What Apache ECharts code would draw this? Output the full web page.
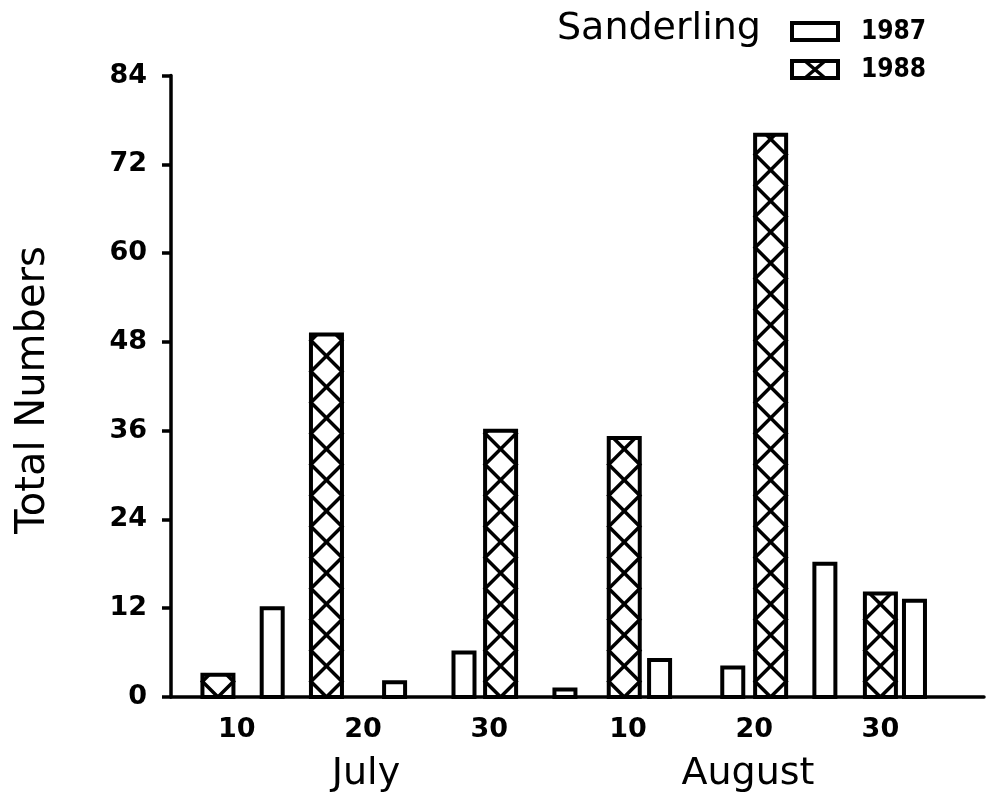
<!DOCTYPE html>
<html>
<head>
<meta charset="utf-8">
<script src="https://cdn.jsdelivr.net/npm/echarts@6/dist/echarts.min.js"></script>
<style>
  html, body { margin: 0; padding: 0; background: #fff; }
  #chart { width: 986px; height: 805px; }
</style>
</head>
<body>
<div id="chart"></div>
<script>
// Survey dates as day of season (1 = 1 July, 32 = 1 August)
const days1987 = [12.8, 22.5, 28.0, 36.0, 43.5, 49.3, 56.6, 63.7];
const counts1987 = [12, 2, 6, 1, 5, 4, 18, 13];
const days1988 = [8.5, 17.1, 30.9, 40.7, 52.3, 61.0];
const counts1988 = [3, 49, 36, 35, 76, 14];

// Date axis labels: 10, 20, 30 July and 10, 20, 30 August
const dayTicks = [10, 20, 30, 41, 51, 61];
const dayTickLabels = ['10', '20', '30', '10', '20', '30'];
const months = ['July', 'August'];
const speciesName = 'Sanderling';
const seriesNames = ['1987', '1988'];
const yAxisTitle = 'Total Numbers';

const BLACK = '#000';
const TEXT_FONT = "'DejaVu Sans', sans-serif";
const NUM_FONT = "'DejaVu Sans', sans-serif";
const LEGEND_FONT = "'DejaVu Sans Condensed', 'DejaVu Sans', sans-serif";

const chart = echarts.init(document.getElementById('chart'), null, { renderer: 'canvas' });

// Plain outlined bar
function openBar(params, api) {
  const top = api.coord([api.value(0), api.value(1)]);
  const base = api.coord([api.value(0), 0]);
  const w = 21;
  return {
    type: 'rect',
    shape: { x: top[0] - w / 2, y: top[1], width: w, height: base[1] - top[1] },
    style: { fill: '#fff', stroke: BLACK, lineWidth: 4 }
  };
}

// Outlined bar filled with a cross-hatched diamond lattice
function hatchedBar(params, api) {
  const top = api.coord([api.value(0), api.value(1)]);
  const base = api.coord([api.value(0), 0]);
  const w = 31;
  const cx = top[0];
  const left = cx - w / 2, right = cx + w / 2;
  const yt = top[1], yb = base[1];
  const children = [{
    type: 'rect',
    shape: { x: left, y: yt, width: w, height: yb - yt },
    style: { fill: '#fff', stroke: null }
  }];
  [-1, 1].forEach(function (dir) {
    const pts = [[cx, yb]];
    let px = cx, py = yb, d = dir;
    while (py > yt + 0.01) {
      const tx = d < 0 ? left : right;
      let ny = py - Math.abs(tx - px), nx = tx;
      if (ny < yt) { nx = px + d * (py - yt); ny = yt; }
      pts.push([nx, ny]);
      px = nx; py = ny; d = -d;
    }
    children.push({
      type: 'polyline',
      shape: { points: pts },
      style: { stroke: BLACK, lineWidth: 3.5, fill: null }
    });
  });
  children.push({
    type: 'rect',
    shape: { x: left, y: yt, width: w, height: yb - yt },
    style: { fill: null, stroke: BLACK, lineWidth: 4 }
  });
  return { type: 'group', children: children };
}

function pairs(xs, ys) { return xs.map(function (x, i) { return [x, ys[i]]; }); }

// Legend swatches and titles
const legendX = 792, legendW = 46, legendH = 17;
const graphics = [
  {
    type: 'text', left: 557, top: 10,
    style: { text: speciesName, font: '38px ' + TEXT_FONT, fill: BLACK }
  },
  {
    type: 'rect', shape: { x: legendX, y: 23, width: legendW, height: legendH },
    style: { fill: '#fff', stroke: BLACK, lineWidth: 4 }
  },
  {
    type: 'text', x: 861, y: 32,
    style: { text: seriesNames[0], font: 'bold 26px ' + LEGEND_FONT, fill: BLACK, verticalAlign: 'middle' }
  },
  {
    type: 'rect', shape: { x: legendX, y: 61, width: legendW, height: legendH },
    style: { fill: '#fff', stroke: BLACK, lineWidth: 4 }
  },
  {
    type: 'line', shape: { x1: legendX + 13, y1: 61, x2: legendX + legendW - 13, y2: 61 + legendH },
    style: { stroke: BLACK, lineWidth: 3.5 }
  },
  {
    type: 'line', shape: { x1: legendX + legendW - 13, y1: 61, x2: legendX + 13, y2: 61 + legendH },
    style: { stroke: BLACK, lineWidth: 3.5 }
  },
  {
    type: 'text', x: 861, y: 70,
    style: { text: seriesNames[1], font: 'bold 26px ' + LEGEND_FONT, fill: BLACK, verticalAlign: 'middle' }
  },
  {
    type: 'text', x: 366, y: 774,
    style: { text: months[0], font: '38px ' + TEXT_FONT, fill: BLACK, align: 'center', verticalAlign: 'middle' }
  },
  {
    type: 'text', x: 748, y: 774,
    style: { text: months[1], font: '38px ' + TEXT_FONT, fill: BLACK, align: 'center', verticalAlign: 'middle' }
  },
  {
    type: 'text', x: 34, y: 390, rotation: Math.PI / 2,
    style: { text: yAxisTitle, font: '40px ' + TEXT_FONT, fill: BLACK, align: 'center', verticalAlign: 'middle' }
  }
];

chart.setOption({
  animation: false,
  backgroundColor: '#fff',
  grid: { left: 171, right: 2, top: 75.5, bottom: 108, containLabel: false },
  xAxis: {
    type: 'value',
    min: 4.78,
    max: 69.21,
    splitLine: { show: false },
    axisLine: { show: true, onZero: false, lineStyle: { color: BLACK, width: 3.5 } },
    axisTick: { show: false },
    axisLabel: {
      customValues: dayTicks,
      formatter: function (v) {
        const i = dayTicks.indexOf(v);
        return i >= 0 ? dayTickLabels[i] : '';
      },
      margin: 19,
      color: BLACK,
      fontFamily: NUM_FONT,
      fontWeight: 'bold',
      fontSize: 27
    }
  },
  yAxis: {
    type: 'value',
    min: 0,
    max: 84,
    interval: 12,
    splitLine: { show: false },
    axisLine: { show: true, lineStyle: { color: BLACK, width: 3.5 } },
    axisTick: { show: true, length: 9, lineStyle: { color: BLACK, width: 3.5 } },
    axisLabel: {
      margin: 24,
      color: BLACK,
      fontFamily: NUM_FONT,
      fontWeight: 'bold',
      fontSize: 27
    }
  },
  graphic: graphics,
  series: [
    {
      name: seriesNames[0],
      type: 'custom',
      renderItem: openBar,
      encode: { x: 0, y: 1 },
      data: pairs(days1987, counts1987),
      z: 3
    },
    {
      name: seriesNames[1],
      type: 'custom',
      renderItem: hatchedBar,
      encode: { x: 0, y: 1 },
      data: pairs(days1988, counts1988),
      z: 3
    }
  ]
});
</script>
</body>
</html>
